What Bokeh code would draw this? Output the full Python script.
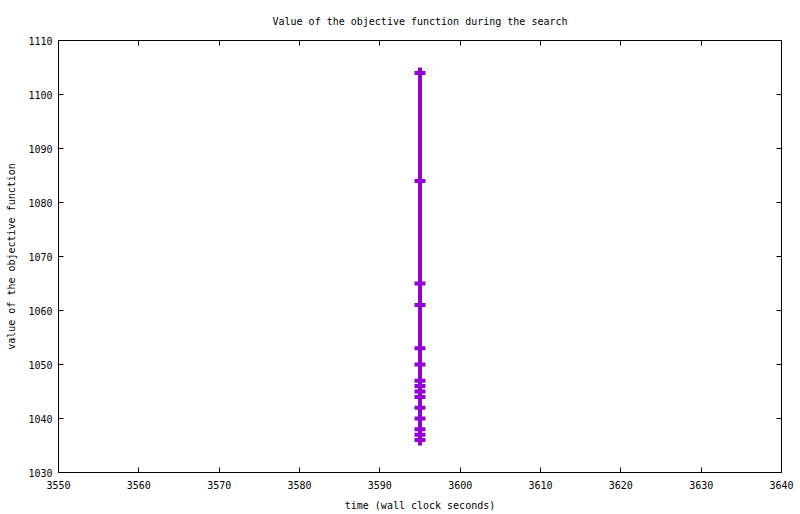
from bokeh.plotting import figure
from bokeh.models import LinearAxis, FixedTicker, Range1d, ColumnDataSource
from bokeh.embed import file_html
from bokeh.resources import INLINE

# data
time_s = [3595, 3595, 3595, 3595, 3595, 3595, 3595, 3595, 3595, 3595, 3595, 3595, 3595, 3595, 3595]
objective = [1104, 1084, 1065, 1061, 1053, 1050, 1047, 1046, 1045, 1044, 1042, 1040, 1038, 1037, 1036]
x_ticks = [3550, 3560, 3570, 3580, 3590, 3600, 3610, 3620, 3630, 3640]
y_ticks = [1030, 1040, 1050, 1060, 1070, 1080, 1090, 1100, 1110]

FONT = "DejaVu Sans Mono"
COLOR = "#9400D3"

src = ColumnDataSource(dict(t=time_s, v=objective))

p = figure(width=800, height=514,
           x_range=Range1d(3550, 3640), y_range=Range1d(1030, 1110),
           output_backend="svg", toolbar_location=None,
           min_border_left=58, min_border_right=19,
           min_border_top=40, min_border_bottom=42,
           title="Value of the objective function during the search")

p.title.text_font = FONT
p.title.text_font_size = "10px"
p.title.text_font_style = "normal"
p.title.align = "center"
p.title.text_color = "black"
p.title.standoff = 27

p.grid.visible = False
p.outline_line_color = "black"
p.outline_line_width = 1
p.outline_line_alpha = 1.0
p.background_fill_color = "white"
p.border_fill_color = "white"

p.line("t", "v", source=src, line_color=COLOR, line_width=4)
p.scatter("t", "v", source=src, marker="cross", size=11, line_color=COLOR, line_width=4)

def style_axis(ax, ticks, show_labels=True):
    ax.ticker = FixedTicker(ticks=ticks)
    ax.minor_tick_line_color = None
    ax.major_tick_in = 5
    ax.major_tick_out = 0
    ax.major_tick_line_color = "black"
    ax.axis_line_color = None
    ax.major_label_text_font = FONT
    if show_labels:
        ax.major_label_text_font_size = "10px"
        ax.major_label_text_color = "black"
    else:
        ax.major_label_text_font_size = "1px"
        ax.major_label_text_color = None
    ax.axis_label_text_font = FONT
    ax.axis_label_text_font_size = "10px"
    ax.axis_label_text_font_style = "normal"
    ax.axis_label_text_color = "black"

xa = p.xaxis[0]
style_axis(xa, x_ticks)
xa.axis_label = "time (wall clock seconds)"
xa.major_label_standoff = 8
xa.axis_label_standoff = 8

ya = p.yaxis[0]
style_axis(ya, y_ticks)
ya.axis_label = "value of the objective function"
ya.major_label_standoff = 6
ya.axis_label_standoff = 8

top = LinearAxis()
style_axis(top, x_ticks, show_labels=False)
top.major_label_standoff = 0
p.add_layout(top, "above")

right = LinearAxis()
style_axis(right, y_ticks, show_labels=False)
right.major_label_standoff = 0
p.add_layout(right, "right")

open("out.html", "w").write(file_html(p, INLINE))
